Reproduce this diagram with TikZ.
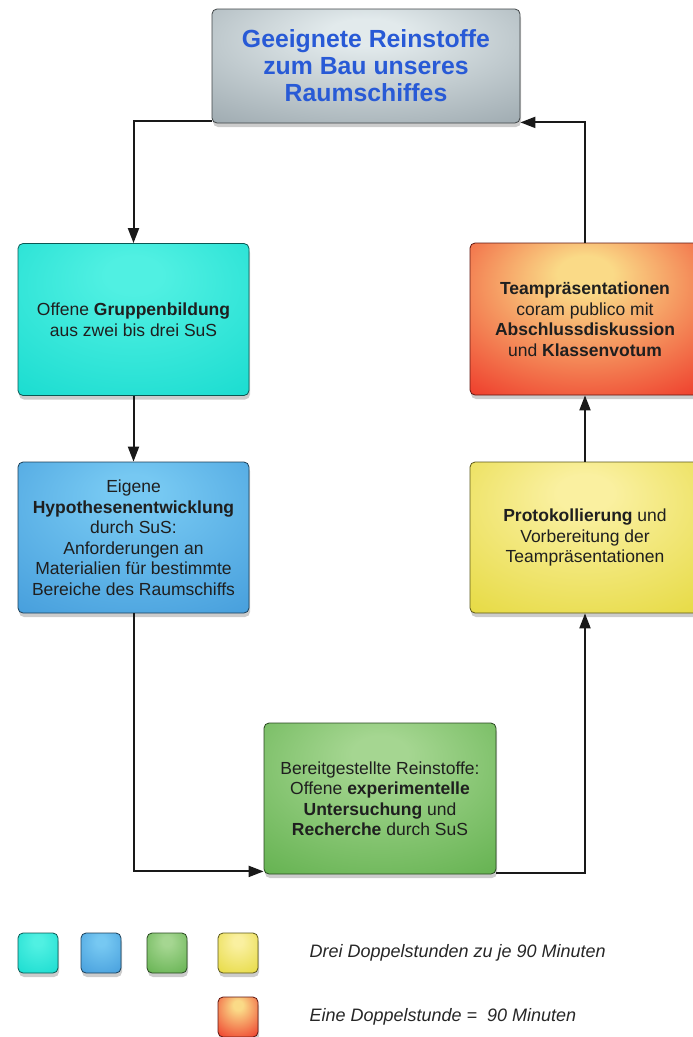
\documentclass[tikz,border=0pt]{standalone}
\usepackage{fontspec}
\setmainfont{Liberation Sans}
\usetikzlibrary{arrows.meta, shadows, positioning}
\definecolor{cyan1}{RGB}{26,220,208}
\definecolor{cyan2}{RGB}{80,240,226}
\definecolor{blue1}{RGB}{70,158,220}
\definecolor{blue2}{RGB}{118,200,242}
\definecolor{green1}{RGB}{100,178,80}
\definecolor{green2}{RGB}{165,214,145}
\definecolor{yellow1}{RGB}{230,218,66}
\definecolor{yellow2}{RGB}{250,240,160}
\definecolor{red1}{RGB}{238,58,42}
\definecolor{red2}{RGB}{250,218,135}
\definecolor{gray1}{RGB}{158,170,176}
\definecolor{gray2}{RGB}{226,234,236}
\definecolor{title1}{RGB}{40,90,214}
\colorlet{glowout}{white}
\colorlet{glowin}{white}
\pgfdeclareradialshading[glowout,glowin]{glow}{\pgfpoint{0bp}{16bp}}{color(0bp)=(glowin); color(6bp)=(glowin); color(42bp)=(glowout); color(80bp)=(glowout)}

\begin{document}
\begin{tikzpicture}[
    x=1pt, y=-1pt,
    myarrow/.style={-{Triangle[length=15pt,width=11pt]}, line width=2pt, black!90},
    phase/.style 2 args={rectangle, rounded corners=5pt,
        /utils/exec={\colorlet{glowout}{#1}\colorlet{glowin}{#2}}, shading=glow,
        draw=#1!40!black, line width=0.8pt,
        drop shadow={shadow xshift=1pt, shadow yshift=-4pt, opacity=0.4},
        align=center, text=black!88, inner sep=0pt,
        font=\fontsize{17.5}{20.5}\selectfont},
    legbox/.style 2 args={phase={#1}{#2}, minimum size=40pt}
]
\useasboundingbox (0,0) rectangle (693,1037);

% Phasen
\node[phase={gray1}{gray2}, minimum width=308pt, minimum height=114pt,
      text=title1, font=\fontsize{24.8}{27}\selectfont\bfseries] (ziel) at (366,66)
    {Geeignete Reinstoffe\\zum Bau unseres\\Raumschiffes};
\node[phase={cyan1}{cyan2}, minimum width=231pt, minimum height=152pt] (gruppe) at (133.5,319.5)
    {Offene \textbf{Gruppenbildung}\\aus zwei bis drei SuS};
\node[phase={blue1}{blue2}, minimum width=231pt, minimum height=151pt] (hypo) at (133.5,537.5)
    {Eigene\\\textbf{Hypothesenentwicklung}\\durch SuS:\\Anforderungen an\\Materialien für bestimmte\\Bereiche des Raumschiffs};
\node[phase={green1}{green2}, minimum width=232pt, minimum height=151pt] (unters) at (380,798.5)
    {Bereitgestellte Reinstoffe:\\Offene \textbf{experimentelle}\\\textbf{Untersuchung} und\\\textbf{Recherche} durch SuS};
\node[phase={yellow1}{yellow2}, minimum width=230pt, minimum height=151pt] (proto) at (585,537.5)
    {\textbf{Protokollierung} und\\Vorbereitung der\\Teampräsentationen};
\node[phase={red1}{red2}, minimum width=230pt, minimum height=152pt] (team) at (585,319)
    {\textbf{Teampräsentationen}\\coram publico mit\\\textbf{Abschlussdiskussion}\\und \textbf{Klassenvotum}};

% Verbindungen
\draw[myarrow] ([yshift=2pt]ziel.south west) -| (gruppe.north);
\draw[myarrow] (gruppe) -- (hypo);
\draw[myarrow] (hypo.south) |- ([yshift=3pt]unters.south west);
\draw[myarrow] ([yshift=1pt]unters.south east) -| (proto.south);
\draw[myarrow] (proto) -- (team);
\draw[myarrow] (team.north) |- ([yshift=1pt]ziel.south east);

% Legende
\foreach \c/\x in {cyan/38, blue/101, green/167, yellow/238} {
    \node[legbox={\c1}{\c2}] (leg-\c) at (\x,953) {};
}
\node[legbox={red1}{red2}] (leg-red) at (238,1017) {};
\node[anchor=west, font=\fontsize{18}{20}\selectfont\itshape, text=black!85] (txt-drei) at (306,953)
    {Drei Doppelstunden zu je 90 Minuten};
\node[anchor=west, font=\fontsize{18}{20}\selectfont\itshape, text=black!85] (txt-eine) at (306,1017)
    {Eine Doppelstunde =\ \ 90 Minuten};

\end{tikzpicture}
\end{document}
